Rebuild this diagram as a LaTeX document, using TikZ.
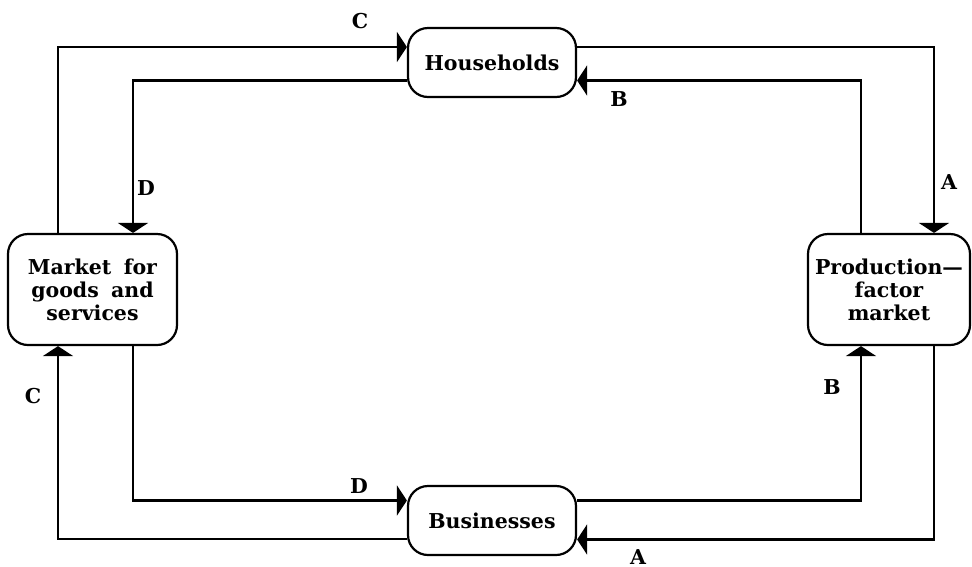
\documentclass[tikz,border=0pt]{standalone}
\usepackage{fontspec}
\setmainfont{DejaVu Serif}
\usetikzlibrary{arrows.meta}
\newcommand\widesp{\spaceskip=0.6em\relax}
\tikzset{
  box/.style={draw, line width=2.2pt, rounded corners=20pt, align=center,
    font=\fontsize{20.5}{23}\selectfont\bfseries\widesp, inner sep=0pt},
  conn/.style={line width=2.2pt},
  arr/.style={conn, -{Triangle[length=10pt,width=30pt]}},
  lab/.style={font=\fontsize{20.5}{23}\selectfont\bfseries, inner sep=0pt}
}
\begin{document}
\begin{tikzpicture}[x=1pt,y=-1pt]
\useasboundingbox (0,0) rectangle (972,566);
\node[box, minimum width=168pt, minimum height=69pt] (hh) at (492,62.5) {Households};
\node[box, minimum width=168pt, minimum height=69pt] (bz) at (492,520.5) {Businesses};
\node[box, minimum width=169pt, minimum height=111pt] (mk) at (92.5,289.5) {Market for\\goods and\\services};
\node[box, minimum width=162pt, minimum height=111pt] (pf) at (889,289.5) {Production---\\factor\\market};
% top
\draw[arr] ([xshift=-34.5pt]mk.north) |- ([yshift=15.5pt]hh.west);
\draw[arr] ([yshift=-18pt]hh.west) -| ([xshift=40.5pt]mk.north);
\draw[arr] ([yshift=15.5pt]hh.east) -| ([xshift=45pt]pf.north);
\draw[arr] ([xshift=-28pt]pf.north) |- ([yshift=-18pt]hh.east);
% bottom
\draw[arr] ([xshift=40.5pt]mk.south) |- ([yshift=20pt]bz.west);
\draw[arr] ([yshift=-18.5pt]bz.west) -| ([xshift=-34.5pt]mk.south);
\draw[arr] ([yshift=20pt]bz.east) -| ([xshift=-28pt]pf.south);
\draw[arr] ([xshift=45pt]pf.south) |- ([yshift=-19pt]bz.east);
% labels
\node[lab] (l1) at (360,21) {C};
\node[lab] (l2) at (146,188) {D};
\node[lab] (l3) at (949,182) {A};
\node[lab] (l4) at (619,99) {B};
\node[lab] (l5) at (359,486) {D};
\node[lab] (l6) at (33,396) {C};
\node[lab] (l7) at (832,387) {B};
\node[lab] (l8) at (638,557) {A};
\end{tikzpicture}
\end{document}
